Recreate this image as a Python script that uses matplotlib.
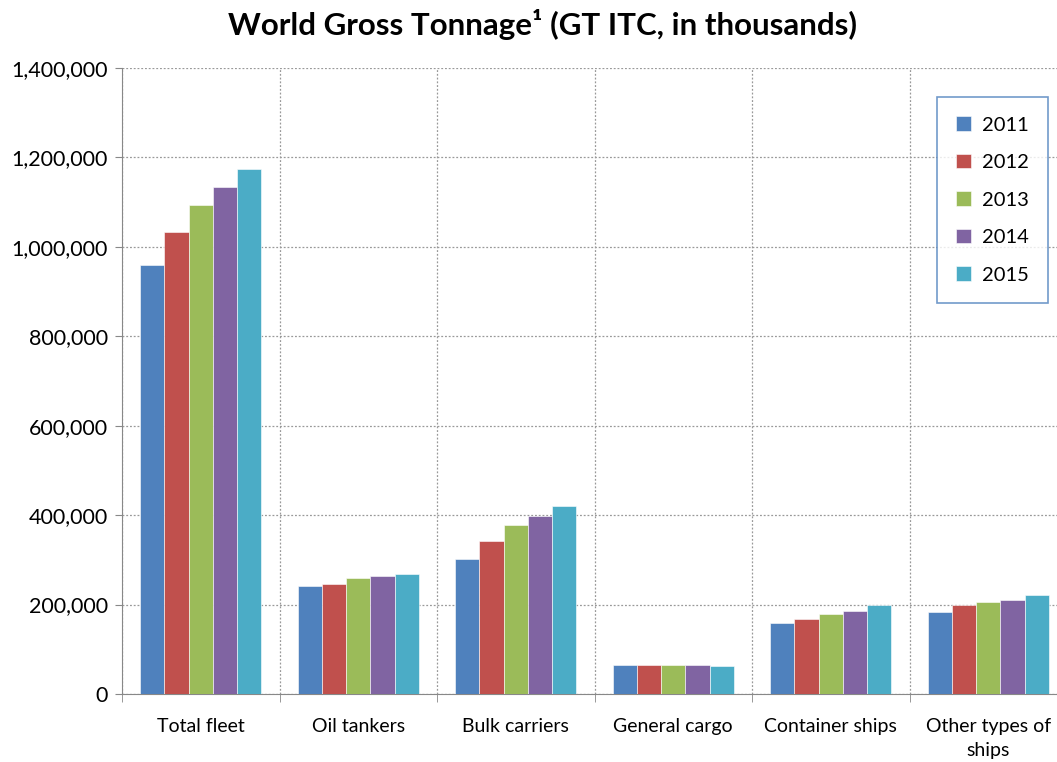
import numpy as np
import matplotlib.pyplot as plt
from matplotlib.ticker import FuncFormatter, MultipleLocator

# data (GT ITC, thousands)
categories = ["Total fleet", "Oil tankers", "Bulk carriers", "General cargo",
              "Container ships", "Other types of\nships"]
years = ["2011", "2012", "2013", "2014", "2015"]
gt_2011 = [960000, 242000, 303000, 65000, 158000, 184000]
gt_2012 = [1033000, 247000, 343000, 65000, 168000, 200000]
gt_2013 = [1093000, 259000, 378000, 65000, 179000, 205000]
gt_2014 = [1133000, 264000, 399000, 64000, 186000, 211000]
gt_2015 = [1174000, 268000, 420000, 62000, 198000, 221000]
colors = ["#4F81BD", "#C0504D", "#9BBB59", "#8064A2", "#4BACC6"]

plt.rcParams['font.family'] = ['Lato', 'DejaVu Sans']

fig = plt.figure(figsize=(10.57, 7.62), dpi=100)
ax = fig.add_axes([122/1057, 1 - 694/762, 945/1057, 626/762])

series = [gt_2011, gt_2012, gt_2013, gt_2014, gt_2015]
x = np.arange(len(categories))
w = 0.154
for i, vals in enumerate(series):
    ax.bar(x + (i - 2) * w, vals, width=w, color=colors[i], label=years[i],
           zorder=3, edgecolor="white", linewidth=0.4)

ax.set_xlim(-0.5, len(categories) - 0.5)
ax.set_ylim(0, 1400000)
ax.yaxis.set_major_locator(MultipleLocator(200000))
ax.yaxis.set_major_formatter(FuncFormatter(lambda v, p: f"{int(v):,}"))
ax.set_xticks(x)
ax.set_xticklabels(categories, fontsize=14, linespacing=1.5)
ax.set_xticks(np.arange(-0.5, len(categories)), minor=True)
ax.tick_params(axis="x", which="major", length=0, pad=17)
ax.tick_params(axis="x", which="minor", length=6, color="#888888")
ax.tick_params(axis="y", labelsize=15.5, length=5, color="#888888", pad=5)

ax.grid(axis="y", which="major", linestyle=(0, (1.5, 1.5)), color="#999999", linewidth=0.9, zorder=0)
ax.grid(axis="x", which="minor", linestyle=(0, (1.5, 1.5)), color="#999999", linewidth=0.9, zorder=0)
for s in ["top", "right"]:
    ax.spines[s].set_visible(False)
ax.spines["left"].set_color("#888888")
ax.spines["bottom"].set_color("#888888")

leg = ax.legend(loc="upper left", fontsize=14.5, frameon=True, fancybox=False,
                handlelength=0.75, handleheight=0.75, labelspacing=1.0,
                borderpad=0.95, handletextpad=0.55, borderaxespad=0)
leg.set_bbox_to_anchor((937/1057, 1 - 97/762), transform=fig.transFigure)
leg.get_frame().set_edgecolor("#4F81BD")
leg.get_frame().set_linewidth(1.2)

fig.text(542/1057, 1 - 25/762, "World Gross Tonnage¹ (GT ITC, in thousands)",
         ha="center", va="center", fontsize=22.5, fontweight="bold")

fig.savefig("out.png", dpi=100)
